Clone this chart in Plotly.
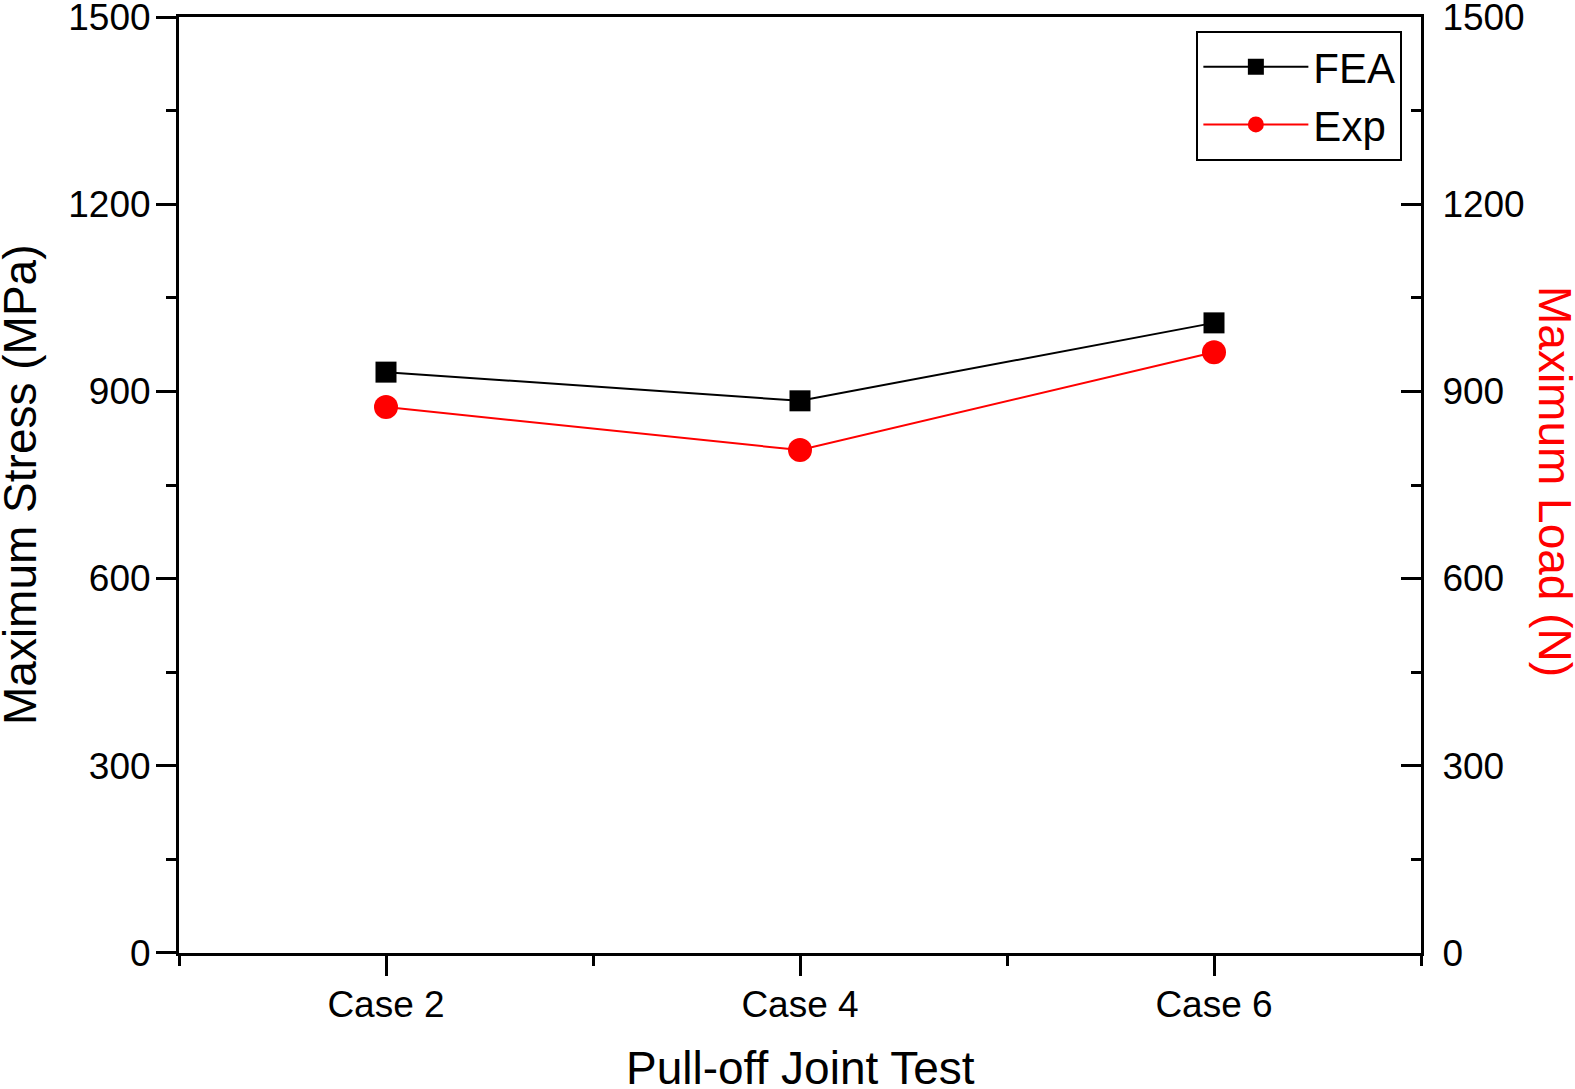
import plotly.graph_objects as go

cases = ["Case 2", "Case 4", "Case 6"]
fea_stress = [931, 885, 1010]
exp_load = [875, 806, 963]
y_ticks = [0, 300, 600, 900, 1200, 1500]
y_minor = [150, 450, 750, 1050, 1350]

x_pos = list(range(1, len(cases) + 1))
minor_x = [p - 0.5 for p in x_pos] + [x_pos[-1] + 0.5]

FONT = "Liberation Sans, Arial, sans-serif"

fig = go.Figure()
fig.add_trace(go.Scatter(
    x=x_pos, y=fea_stress, name="FEA", mode="lines+markers",
    line=dict(color="black", width=2),
    marker=dict(symbol="square", size=21, color="black"),
))
fig.add_trace(go.Scatter(
    x=x_pos, y=exp_load, name="Exp", mode="lines+markers",
    line=dict(color="red", width=2),
    marker=dict(symbol="circle", size=24, color="red"),
))
# anchor trace for the right axis (invisible)
fig.add_trace(go.Scatter(
    x=x_pos, y=exp_load, yaxis="y2", mode="markers",
    marker=dict(opacity=0), showlegend=False, hoverinfo="skip",
))

axis_common = dict(
    showgrid=False, zeroline=False, showline=True, automargin=False,
    linecolor="black", linewidth=3,
    tickcolor="black", tickwidth=3,
    ticklabeloverflow="allow",
    tickfont=dict(size=37, color="black", family=FONT),
)

fig.update_layout(
    width=1575, height=1089,
    margin=dict(l=179, r=154, t=17, b=136),
    plot_bgcolor="white", paper_bgcolor="white",
    font=dict(family=FONT, color="black"),
    xaxis=dict(
        **axis_common,
        range=[0.5, 3.5],
        tickvals=x_pos, ticktext=cases,
        ticks="outside", ticklen=20, ticklabelstandoff=-3,
        mirror=True,
        minor=dict(tickvals=minor_x, ticks="outside", ticklen=10,
                   tickwidth=3, tickcolor="black"),
    ),
    yaxis=dict(
        **axis_common,
        range=[-0.5, 1500.5], tickvals=y_ticks,
        ticks="outside", ticklen=20, ticklabelstandoff=-2,
        minor=dict(tickvals=y_minor, ticks="outside",
                   ticklen=10, tickwidth=3, tickcolor="black"),
    ),
    yaxis2=dict(
        **axis_common,
        overlaying="y", side="right", anchor="x",
        range=[-0.5, 1500.5], tickvals=y_ticks,
        ticks="inside", ticklen=20, ticklabelstandoff=11,
        minor=dict(tickvals=y_minor, ticks="inside",
                   ticklen=10, tickwidth=3, tickcolor="black"),
    ),
    legend=dict(
        x=0.985, y=0.985, xanchor="right", yanchor="top",
        bordercolor="black", borderwidth=2, bgcolor="white",
        font=dict(size=42, color="black", family=FONT),
        itemwidth=105, tracegroupgap=0,
    ),
    annotations=[
        dict(text="Maximum Load (N)", textangle=90,
             xref="paper", yref="paper", x=1, xshift=134, y=0.5, yshift=4,
             xanchor="center", yanchor="middle", showarrow=False,
             font=dict(size=46, color="red", family=FONT)),
        dict(text="Maximum Stress (MPa)", textangle=-90,
             xref="paper", yref="paper", x=0, xshift=-159, y=0.5,
             xanchor="center", yanchor="middle", showarrow=False,
             font=dict(size=46, color="black", family=FONT)),
        dict(text="Pull-off Joint Test",
             xref="paper", yref="paper", x=0.5, y=0, yshift=-143,
             xanchor="center", yanchor="bottom", showarrow=False,
             font=dict(size=46, color="black", family=FONT)),
    ],
)

fig.write_html("out.html", config={"displayModeBar": False},
               post_script="document.body.style.margin='0px';")
